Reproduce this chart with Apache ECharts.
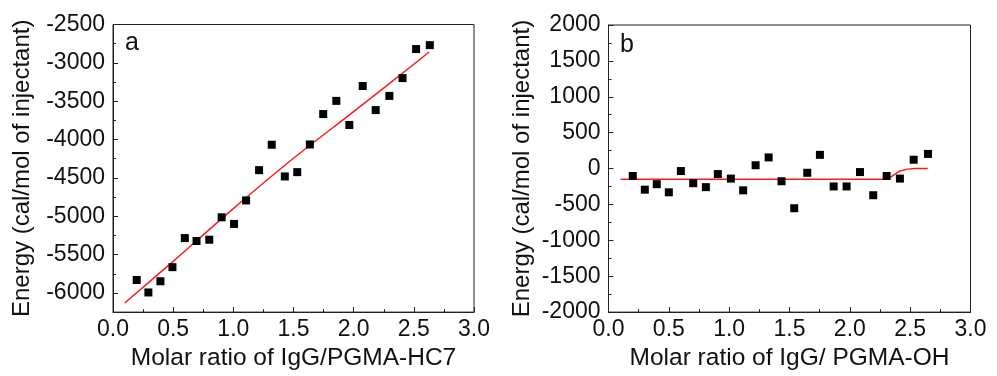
<!DOCTYPE html>
<html>
<head>
<meta charset="utf-8">
<script src="https://cdn.jsdelivr.net/npm/echarts@6/dist/echarts.min.js"></script>
<style>
html,body{margin:0;padding:0;background:#fff;}
#chart{width:997px;height:376px;}
</style>
</head>
<body>
<div id="chart"></div>
<script>
// Panel a data: Molar ratio of IgG/PGMA-HC7
const xA = [0.197,0.294,0.394,0.494,0.597,0.694,0.800,0.903,1.006,1.106,1.214,1.319,1.428,1.531,1.636,1.747,1.856,1.964,2.075,2.183,2.297,2.406,2.519,2.633];
const yA = [-5831,-5994,-5848,-5664,-5285,-5323,-5306,-5014,-5100,-4794,-4399,-4068,-4481,-4425,-4064,-3668,-3496,-3810,-3302,-3616,-3431,-3199,-2820,-2769];
const fitXA = [0.097,0.5,1.0,1.5,2.0,2.628];
const fitYA = [-6132,-5588,-4900,-4244,-3635,-2859];

// Panel b data: Molar ratio of IgG/ PGMA-OH
const xB = [0.201,0.301,0.400,0.500,0.600,0.702,0.807,0.906,1.014,1.116,1.219,1.327,1.434,1.539,1.647,1.752,1.866,1.973,2.084,2.194,2.305,2.415,2.529,2.648];
const yB = [-104,-294,-218,-331,-35,-204,-259,-77,-140,-304,46,155,-177,-553,-59,191,-249,-249,-49,-372,-104,-140,123,204];
const fitXB = [0.1,2.305,2.36,2.415,2.54,2.645];
const fitYB = [-150,-150,-95,-35,0,0];

// Tick values
const yTicksA = [-6000,-5500,-5000,-4500,-4000,-3500,-3000,-2500];
const yMinorA = [-6250,-5750,-5250,-4750,-4250,-3750,-3250,-2750];

const pairs = (xs, ys) => xs.map((x, i) => [x, ys[i]]);

const FONT = 'Liberation Sans, Arial, sans-serif';
const AX = '#222';
const TXT = '#111';

function xAxisCfg(gridIndex, name) {
  return {
    gridIndex, type: 'value', min: 0, max: 3, interval: 0.5,
    name, nameLocation: 'middle', nameGap: 31,
    nameTextStyle: {fontFamily: FONT, fontSize: 24.5, color: TXT},
    axisLine: {show: true, onZero: false, lineStyle: {color: AX, width: 1}},
    axisTick: {show: true, inside: true, length: 5, lineStyle: {color: AX}},
    minorTick: {show: true, splitNumber: 2, length: 3, lineStyle: {color: AX}},
    axisLabel: {fontFamily: FONT, fontSize: 23, color: TXT, margin: 6, formatter: v => v.toFixed(1)},
    splitLine: {show: false}
  };
}

const chart = echarts.init(document.getElementById('chart'), null, {renderer: 'canvas'});
chart.setOption({
  animation: false,
  backgroundColor: '#fff',
  grid: [
    {left: 113, top: 24.5, width: 361, height: 290.5, show: true, borderColor: AX, borderWidth: 1, backgroundColor: 'transparent'},
    {left: 608.5, top: 25, width: 362, height: 293, show: true, borderColor: AX, borderWidth: 1, backgroundColor: 'transparent'}
  ],
  xAxis: [
    xAxisCfg(0, 'Molar ratio of IgG/PGMA-HC7'),
    xAxisCfg(1, 'Molar ratio of IgG/ PGMA-OH')
  ],
  yAxis: [
    {
      gridIndex: 0, type: 'value', min: -6250, max: -2500, interval: 250,
      name: 'Energy (cal/mol of injectant)', nameLocation: 'middle', nameGap: 79,
      nameTextStyle: {fontFamily: FONT, fontSize: 24, color: TXT},
      axisLine: {show: true, onZero: false, lineStyle: {color: AX, width: 1}},
      axisTick: {show: true, inside: true, length: 5, customValues: yTicksA, lineStyle: {color: AX}},
      axisLabel: {fontFamily: FONT, fontSize: 23, color: TXT, margin: 8, customValues: yTicksA, formatter: v => String(v)},
      splitLine: {show: false}
    },
    {
      gridIndex: 0, type: 'value', min: -6250, max: -2500, interval: 250, position: 'left',
      axisLine: {show: false},
      axisTick: {show: true, inside: true, length: 3, customValues: yMinorA, lineStyle: {color: AX}},
      axisLabel: {show: false},
      splitLine: {show: false}
    },
    {
      gridIndex: 1, type: 'value', min: -2000, max: 2000, interval: 500,
      name: 'Energy (cal/mol of injectant)', nameLocation: 'middle', nameGap: 74,
      nameTextStyle: {fontFamily: FONT, fontSize: 24, color: TXT},
      axisLine: {show: true, onZero: false, lineStyle: {color: AX, width: 1}},
      axisTick: {show: true, inside: true, length: 5, lineStyle: {color: AX}},
      minorTick: {show: true, splitNumber: 2, length: 3, lineStyle: {color: AX}},
      axisLabel: {fontFamily: FONT, fontSize: 23, color: TXT, margin: 8, formatter: v => String(v)},
      splitLine: {show: false}
    }
  ],
  graphic: [
    {type: 'text', left: 125, top: 31, style: {text: 'a', fontFamily: FONT, fontSize: 25, fill: TXT}},
    {type: 'text', left: 620, top: 33, style: {text: 'b', fontFamily: FONT, fontSize: 25, fill: TXT}}
  ],
  series: [
    {type: 'line', xAxisIndex: 0, yAxisIndex: 0, data: pairs(fitXA, fitYA), smooth: 0.3, showSymbol: false, symbol: 'none',
     lineStyle: {color: '#ff1a1a', width: 1.5}, z: 2},
    {type: 'scatter', xAxisIndex: 0, yAxisIndex: 0, data: pairs(xA, yA), symbol: 'rect', symbolSize: 8,
     itemStyle: {color: '#000', opacity: 1}, z: 3},
    {type: 'line', xAxisIndex: 1, yAxisIndex: 2, data: pairs(fitXB, fitYB), smooth: 0.2, showSymbol: false, symbol: 'none',
     lineStyle: {color: '#ff1a1a', width: 1.5}, z: 2},
    {type: 'scatter', xAxisIndex: 1, yAxisIndex: 2, data: pairs(xB, yB), symbol: 'rect', symbolSize: 8,
     itemStyle: {color: '#000', opacity: 1}, z: 3}
  ]
});
</script>
</body>
</html>
